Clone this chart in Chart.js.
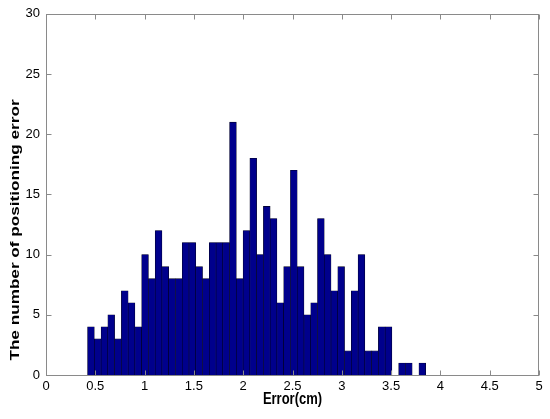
<!DOCTYPE html>
<html>
<head>
<meta charset="utf-8">
<script src="https://cdn.jsdelivr.net/npm/chart.js@4/dist/chart.umd.min.js"></script>
<style>html,body{margin:0;padding:0;background:#fff}</style>
</head>
<body>
<canvas id="chart" width="550" height="419"></canvas>
<script>
// histogram of positioning error, 50 bins between the min and max error
var binLow = 0.4215;
var binHigh = 3.851;
var counts = [4, 3, 4, 5, 3, 7, 6, 4, 10, 8,
              12, 9, 8, 8, 11, 11, 9, 8, 11, 11,
              11, 21, 8, 12, 18, 10, 14, 13, 6, 9,
              17, 9, 5, 6, 13, 10, 7, 9, 2, 7,
              10, 2, 2, 4, 4, 0, 1, 1, 0, 1];
var xTicks = [0, 0.5, 1, 1.5, 2, 2.5, 3, 3.5, 4, 4.5, 5];
var yTicks = [0, 5, 10, 15, 20, 25, 30];
var xLabel = "Error(cm)";
var yLabel = "The number of positioning error";

var fontFamily = '"Liberation Sans", Arial, sans-serif';
var binWidth = (binHigh - binLow) / counts.length;
var points = counts.map(function(c, i) {
    return {x: binLow + binWidth * (i + 0.5), y: c};
});

// MATLAB-like box with inward ticks, plus stretched axis titles
var framePlugin = {
    id: 'frame',
    afterDraw: function(chart) {
        var ctx = chart.ctx;
        var a = chart.chartArea;
        var xs = chart.scales.x, ys = chart.scales.y;
        ctx.save();
        ctx.strokeStyle = '#8a8a8a';
        ctx.lineWidth = 1;
        var l = Math.round(a.left) + 0.5, r = Math.round(a.right) - 0.5;
        var t = Math.round(a.top) + 0.5, b = Math.round(a.bottom) + 0.5;
        ctx.strokeRect(l, t, r - l, b - t);
        ctx.beginPath();
        xTicks.forEach(function(v) {
            var px = Math.round(xs.getPixelForValue(v)) + 0.5;
            ctx.moveTo(px, b); ctx.lineTo(px, b - 5);
            ctx.moveTo(px, t); ctx.lineTo(px, t + 5);
        });
        yTicks.forEach(function(v) {
            var py = Math.round(ys.getPixelForValue(v)) + 0.5;
            ctx.moveTo(l, py); ctx.lineTo(l + 5, py);
            ctx.moveTo(r, py); ctx.lineTo(r - 5, py);
        });
        ctx.stroke();

        ctx.fillStyle = '#000';
        ctx.font = 'bold 13px ' + fontFamily;
        ctx.textAlign = 'center';
        ctx.textBaseline = 'middle';
        ctx.save();
        ctx.translate(15, 230);
        ctx.rotate(-Math.PI / 2);
        ctx.scale(1.32, 1);
        ctx.fillText(yLabel, 0, 0);
        ctx.restore();
        ctx.save();
        ctx.translate((a.left + a.right) / 2, 399);
        ctx.scale(1, 1.3);
        ctx.fillText(xLabel, 0, 0);
        ctx.restore();
        ctx.restore();
    }
};

function plainLabel(value) {
    return String(value);
}

new Chart(document.getElementById('chart'), {
    type: 'bar',
    data: {
        datasets: [{
            data: points,
            backgroundColor: '#00008c',
            borderColor: '#000020',
            borderWidth: 0.6,
            barPercentage: 1,
            categoryPercentage: 1,
        }],
    },
    options: {
        responsive: false,
        animation: false,
        devicePixelRatio: 1,
        layout: {padding: {top: 13, right: 11, left: 0, bottom: 0}},
        plugins: {legend: {display: false}, tooltip: {enabled: false}},
        scales: {
            x: {
                type: 'linear',
                min: 0,
                max: 5,
                offset: false,
                afterBuildTicks: function(scale) {
                    scale.ticks = xTicks.map(function(v) { return {value: v}; });
                },
                afterFit: function(scale) { scale.height = 44; },
                grid: {display: false, drawTicks: false, offset: false},
                border: {display: false},
                ticks: {
                    color: '#000',
                    padding: 4,
                    maxRotation: 0,
                    autoSkip: false,
                    callback: plainLabel,
                    font: {family: fontFamily, size: 13},
                },
            },
            y: {
                min: 0,
                max: 30,
                afterBuildTicks: function(scale) {
                    scale.ticks = yTicks.map(function(v) { return {value: v}; });
                },
                afterFit: function(scale) { scale.width = 46; },
                grid: {display: false, drawTicks: false},
                border: {display: false},
                ticks: {
                    color: '#000',
                    padding: 6,
                    callback: plainLabel,
                    font: {family: fontFamily, size: 13},
                },
            },
        },
    },
    plugins: [framePlugin],
});
</script>
</body>
</html>
